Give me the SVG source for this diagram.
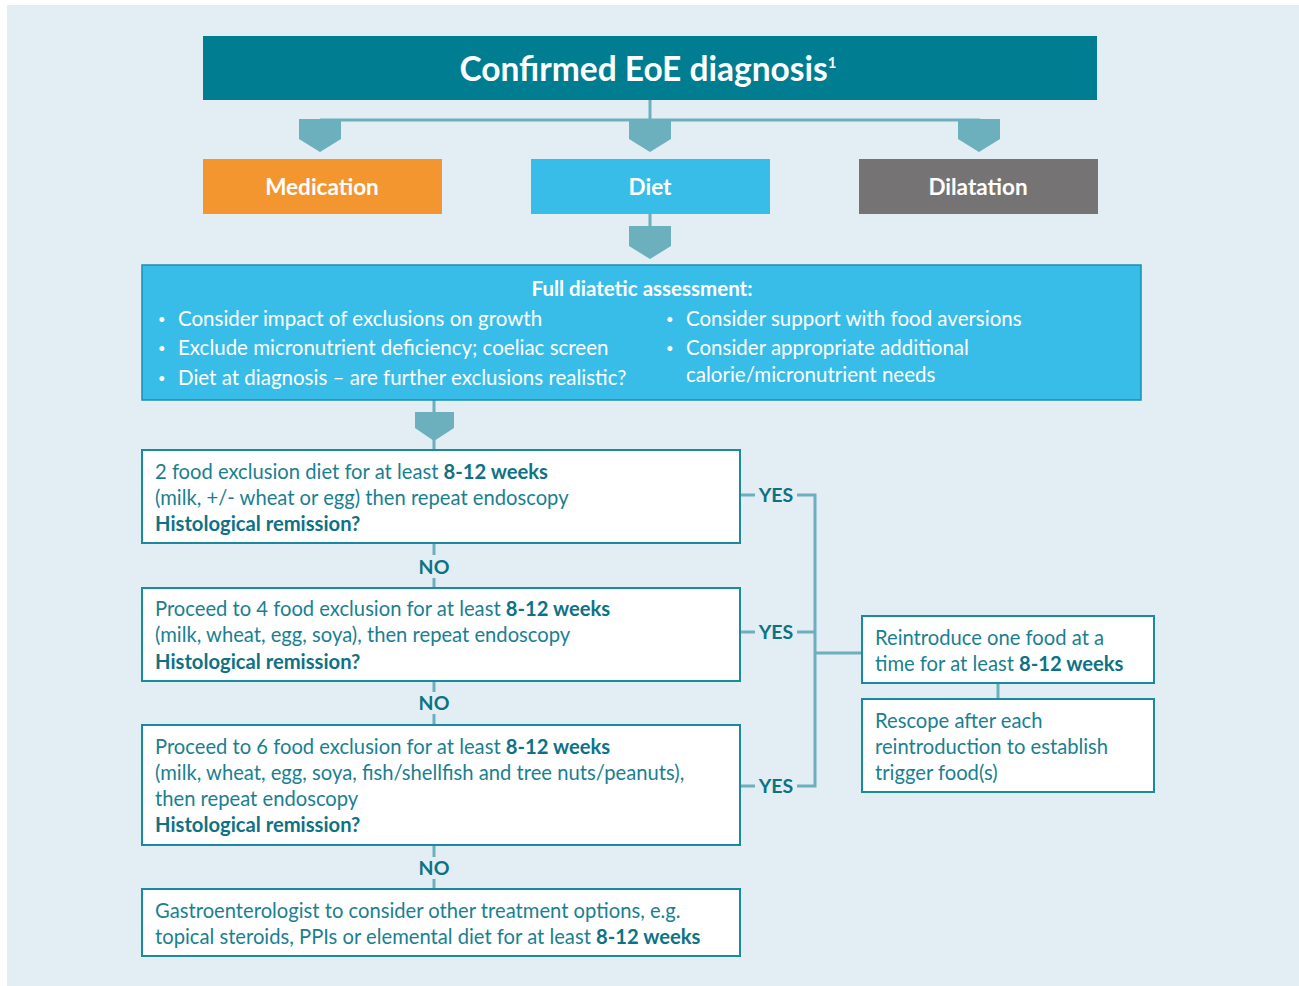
<svg xmlns="http://www.w3.org/2000/svg" width="1299" height="986" viewBox="0 0 1299 986">
<style>
text{font-family:Lato,"Open Sans","Liberation Sans",sans-serif}
.bg{fill:#e2eef4}
.hdr{fill:#007d91}
.ttl{font-size:33.5px;font-weight:bold;fill:#fff}
.opt{font-size:22.5px;font-weight:bold;fill:#fff}
.ah{fill:#6cafbd}
.ln{stroke:#6cafbd;stroke-width:3;fill:none}
.box{fill:#fff;stroke:#1a8a9e;stroke-width:2}
.t{font-size:20.2px;fill:#1a7f91}
.b{font-weight:bold;fill:#0e7285}
.lbl{font-size:19.5px;font-weight:bold;fill:#0e7285}
.as{font-size:20.5px;fill:#fff}
.bu{font-size:13px;fill:#fff}
</style>
<rect x="7" y="5" width="1292" height="981" class="bg"/>
<g id="connectors">
<path class="ln" d="M650 100V120M320 120H980"/>
<polygon class="ah" points="299,119 341,119 341,139 320,152 299,139"/>
<polygon class="ah" points="629,119 671,119 671,139 650,152 629,139"/>
<polygon class="ah" points="958,119 1000,119 1000,139 979,152 958,139"/>
<path class="ln" d="M650 213V227"/>
<polygon class="ah" points="629,226 671,226 671,246 650,259 629,246"/>
<path class="ln" d="M434 400V450"/>
<polygon class="ah" points="415,412 454,412 454,428 434,441 415,428"/>
<path class="ln" d="M434 543V555M434 578V588M434 681V692M434 714V725M434 845V857M434 879V889"/>
<path class="ln" d="M740 495H755M797 495H815V786H797M740 786H755M740 632H755M797 632H815M815 653H862M998 683V699"/>
<text class="lbl" x="434" y="574" text-anchor="middle">NO</text>
<text class="lbl" x="434" y="710" text-anchor="middle">NO</text>
<text class="lbl" x="434" y="875" text-anchor="middle">NO</text>
<text class="lbl" x="776" y="502" text-anchor="middle">YES</text>
<text class="lbl" x="776" y="639" text-anchor="middle">YES</text>
<text class="lbl" x="776" y="793" text-anchor="middle">YES</text>
</g>
<g id="header">
<rect x="203" y="36" width="894" height="64" class="hdr"/>
<text class="ttl" x="648" y="81" text-anchor="middle">Confirmed EoE diagnosis<tspan font-size="15" dy="-13">1</tspan></text>
</g>
<g id="medication">
<rect x="203" y="159" width="239" height="55" fill="#f4962f"/>
<text class="opt" x="322" y="195" text-anchor="middle">Medication</text>
</g>
<g id="diet">
<rect x="531" y="159" width="239" height="55" fill="#38bde9"/>
<text class="opt" x="650" y="195" text-anchor="middle">Diet</text>
</g>
<g id="dilatation">
<rect x="859" y="159" width="239" height="55" fill="#767374"/>
<text class="opt" x="978" y="195" text-anchor="middle">Dilatation</text>
</g>
<g id="assessment">
<rect x="142" y="265" width="999" height="135" fill="#38bde9" stroke="#1a8fb5" stroke-width="1.5"/>
<text class="as" x="642" y="296" text-anchor="middle" font-weight="bold">Full diatetic assessment:</text>
<text class="bu" x="158" y="324">•</text><text class="as" x="178" y="326">Consider impact of exclusions on growth</text>
<text class="bu" x="158" y="353">•</text><text class="as" x="178" y="355">Exclude micronutrient deficiency; coeliac screen</text>
<text class="bu" x="158" y="383">•</text><text class="as" x="178" y="385">Diet at diagnosis – are further exclusions realistic?</text>
<text class="bu" x="666" y="324">•</text><text class="as" x="686" y="326">Consider support with food aversions</text>
<text class="bu" x="666" y="353">•</text><text class="as" x="686" y="355">Consider appropriate additional</text>
<text class="as" x="686" y="382">calorie/micronutrient needs</text>
</g>
<g id="step2">
<rect x="142" y="450" width="598" height="93" class="box"/>
<text class="t" x="155" y="479">2 food exclusion diet for at least <tspan class="b">8-12 weeks</tspan></text>
<text class="t" x="155" y="505">(milk, +/- wheat or egg) then repeat endoscopy</text>
<text class="t b" x="155" y="531">Histological remission?</text>
</g>
<g id="step4">
<rect x="142" y="588" width="598" height="93" class="box"/>
<text class="t" x="155" y="616">Proceed to 4 food exclusion for at least <tspan class="b">8-12 weeks</tspan></text>
<text class="t" x="155" y="642">(milk, wheat, egg, soya), then repeat endoscopy</text>
<text class="t b" x="155" y="669">Histological remission?</text>
</g>
<g id="step6">
<rect x="142" y="725" width="598" height="120" class="box"/>
<text class="t" x="155" y="754">Proceed to 6 food exclusion for at least <tspan class="b">8-12 weeks</tspan></text>
<text class="t" x="155" y="780">(milk, wheat, egg, soya, fish/shellfish and tree nuts/peanuts),</text>
<text class="t" x="155" y="806">then repeat endoscopy</text>
<text class="t b" x="155" y="832">Histological remission?</text>
</g>
<g id="gastro">
<rect x="142" y="889" width="598" height="67" class="box"/>
<text class="t" x="155" y="918">Gastroenterologist to consider other treatment options, e.g.</text>
<text class="t" x="155" y="944">topical steroids, PPIs or elemental diet for at least <tspan class="b">8-12 weeks</tspan></text>
</g>
<g id="reintroduce">
<rect x="862" y="616" width="292" height="67" class="box"/>
<text class="t" x="875" y="645">Reintroduce one food at a</text>
<text class="t" x="875" y="671">time for at least <tspan class="b">8-12 weeks</tspan></text>
</g>
<g id="rescope">
<rect x="862" y="699" width="292" height="93" class="box"/>
<text class="t" x="875" y="728">Rescope after each</text>
<text class="t" x="875" y="754">reintroduction to establish</text>
<text class="t" x="875" y="780">trigger food(s)</text>
</g>
</svg>
